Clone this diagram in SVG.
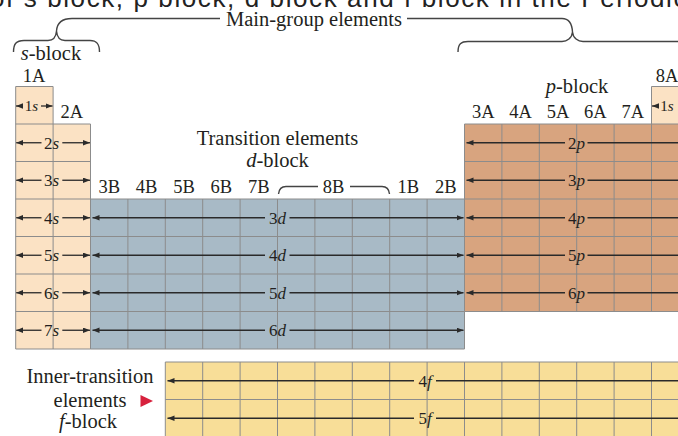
<svg xmlns="http://www.w3.org/2000/svg" width="678" height="436" viewBox="0 0 678 436">
<defs>
<style>
.t{font-family:"Liberation Serif","Times New Roman",serif;fill:#231f20}
.big{font-size:20.5px}
.grp{font-size:18.5px;text-anchor:middle}
.orb{font-size:17px;text-anchor:middle}
.i{font-style:italic}
.grid{stroke:#8c8c8c;stroke-width:1;fill:none}
.arr{stroke:#2a2a2a;stroke-width:1.3;fill:none;marker-end:url(#ah)}
.brace{stroke:#444;stroke-width:1.4;fill:none}
</style>
<marker id="ah" markerUnits="userSpaceOnUse" markerWidth="8" markerHeight="6" refX="7" refY="2.75" orient="auto">
<path d="M0,0 L7,2.75 L0,5.5 z" fill="#2a2a2a"/>
</marker>
</defs>
<rect width="678" height="436" fill="#ffffff"/>

<text x="-10" y="6.5" font-family="Liberation Sans, Arial, sans-serif" font-size="26" letter-spacing="1.6" fill="#222">of s block, p block, d block and f block in the Periodic Table</text>

<g id="braces">
<path class="brace" d="M13.5,52 C13.5,44 16,40.5 24,40.5 L48,40.5 C53,40.5 56,37 56.5,31 C57,37 60,40.5 65,40.5 L90,40.5 C97,40.5 99.5,44 99.5,52"/>
<path class="brace" d="M56.5,31 C57,23 62,18.5 72,18.5 L220,18.5"/>
<path class="brace" d="M407,18.5 L562,18.5 C568,18.5 572,23 572.5,32"/>
<path class="brace" d="M458,52 C458,44 461,41.5 468,41.5 L562,41.5 C567,41.5 572,38 572.5,32 C573,38 578,41.5 583,41.5 L690,41.5"/>
<path class="brace" d="M278.5,194 C279,189 281,186.5 286,186.5 L318,186.5 M350,186.5 L382,186.5 C387,186.5 389,189 389.5,194"/>
</g>

<g id="labels">
<text class="t big" x="226" y="26">Main-group elements</text>
<text class="t big" x="51" y="60" text-anchor="middle"><tspan class="i">s</tspan>-block</text>
<text class="t big" x="577" y="92.5" text-anchor="middle"><tspan class="i">p</tspan>-block</text>
<text class="t big" x="277.5" y="145" text-anchor="middle">Transition elements</text>
<text class="t big" x="277.5" y="166.5" text-anchor="middle"><tspan class="i">d</tspan>-block</text>
<text class="t grp" x="34" y="81.5">1A</text>
<text class="t grp" x="71.8" y="117.5">2A</text>
<text class="t grp" x="483.2" y="117.5">3A</text>
<text class="t grp" x="520.6" y="117.5">4A</text>
<text class="t grp" x="558" y="117.5">5A</text>
<text class="t grp" x="595.4" y="117.5">6A</text>
<text class="t grp" x="632.8" y="117.5">7A</text>
<text class="t grp" x="667" y="81.5">8A</text>
<text class="t grp" x="109.2" y="193">3B</text>
<text class="t grp" x="146.6" y="193">4B</text>
<text class="t grp" x="184" y="193">5B</text>
<text class="t grp" x="221.4" y="193">6B</text>
<text class="t grp" x="258.8" y="193">7B</text>
<text class="t grp" x="333.6" y="193">8B</text>
<text class="t grp" x="408.4" y="193">1B</text>
<text class="t grp" x="445.8" y="193">2B</text>
</g>

<g id="s-block">
<rect x="15.7" y="86.5" width="37.4" height="37.5" fill="#fbe2c4"/>
<rect x="15.7" y="124" width="74.8" height="225" fill="#fbe2c4"/>
<path class="grid" d="M15.7,86.5 H53.1 V124 M15.7,86.5 V349 H90.5 V124 H15.7 M53.1,124 V349 M15.7,161.5 H90.5 M15.7,199 H90.5 M15.7,236.5 H90.5 M15.7,274 H90.5 M15.7,311.5 H90.5"/>
</g>

<g id="s-block-8A">
<rect x="651.5" y="86.5" width="37.4" height="37.5" fill="#fbe2c4"/>
<path class="grid" d="M651.5,124 V86.5 H690"/>
</g>

<g id="d-block">
<rect x="90.5" y="199" width="374" height="150" fill="#a8bac6"/>
<path class="grid" d="M90.5,199 H464.5 V349 H90.5 Z M127.9,199 V349 M165.3,199 V349 M202.7,199 V349 M240.1,199 V349 M277.5,199 V349 M314.9,199 V349 M352.3,199 V349 M389.7,199 V349 M427.1,199 V349 M90.5,236.5 H464.5 M90.5,274 H464.5 M90.5,311.5 H464.5"/>
</g>

<g id="p-block">
<rect x="464.5" y="124" width="224.4" height="187.5" fill="#d8a47f"/>
<path class="grid" d="M690,124 H464.5 V311.5 H690 M501.9,124 V311.5 M539.3,124 V311.5 M576.7,124 V311.5 M614.1,124 V311.5 M651.5,124 V311.5 M464.5,161.5 H690 M464.5,199 H690 M464.5,236.5 H690 M464.5,274 H690"/>
</g>

<g id="f-block">
<rect x="165.3" y="362" width="523.6" height="76" fill="#f8de98"/>
<path class="grid" d="M690,362 H165.3 V438 M202.7,362 V438 M240.1,362 V438 M277.5,362 V438 M314.9,362 V438 M352.3,362 V438 M389.7,362 V438 M427.1,362 V438 M464.5,362 V438 M501.9,362 V438 M539.3,362 V438 M576.7,362 V438 M614.1,362 V438 M651.5,362 V438 M165.3,399.5 H690"/>
</g>

<g id="f-label">
<text class="t big" x="90" y="383" text-anchor="middle">Inner-transition</text>
<text class="t big" x="90" y="406.5" text-anchor="middle">elements</text>
<text class="t big" x="88" y="427.5" text-anchor="middle"><tspan class="i">f</tspan>-block</text>
<path d="M140.5,395 L153,401 L140.5,407 Z" fill="#d7213d"/>
</g>

<g id="connectors">
<path class="arr" d="M22,106 H16"/>
<path class="arr" d="M41,106 H52.5"/>
<path class="arr" d="M657,106 H652"/>
<path class="arr" d="M678,106 H688"/>
<path class="arr" d="M41.5,142.75 H16.2"/><path class="arr" d="M62.3,142.75 H90"/>
<path class="arr" d="M41.5,180.25 H16.2"/><path class="arr" d="M62.3,180.25 H90"/>
<path class="arr" d="M41.5,217.75 H16.2"/><path class="arr" d="M62.3,217.75 H90"/>
<path class="arr" d="M41.5,255.25 H16.2"/><path class="arr" d="M62.3,255.25 H90"/>
<path class="arr" d="M41.5,292.75 H16.2"/><path class="arr" d="M62.3,292.75 H90"/>
<path class="arr" d="M41.5,330.25 H16.2"/><path class="arr" d="M62.3,330.25 H90"/>
<path class="arr" d="M265,217.75 H92.5"/><path class="arr" d="M289.5,217.75 H463.5"/>
<path class="arr" d="M265,255.25 H92.5"/><path class="arr" d="M289.5,255.25 H463.5"/>
<path class="arr" d="M265,292.75 H92.5"/><path class="arr" d="M289.5,292.75 H463.5"/>
<path class="arr" d="M265,330.25 H92.5"/><path class="arr" d="M289.5,330.25 H463.5"/>
<path class="arr" d="M565,142.75 H466.5"/><path class="arr" d="M587.5,142.75 H688"/>
<path class="arr" d="M565,180.25 H466.5"/><path class="arr" d="M587.5,180.25 H688"/>
<path class="arr" d="M565,217.75 H466.5"/><path class="arr" d="M587.5,217.75 H688"/>
<path class="arr" d="M565,255.25 H466.5"/><path class="arr" d="M587.5,255.25 H688"/>
<path class="arr" d="M565,292.75 H466.5"/><path class="arr" d="M587.5,292.75 H688"/>
<path class="arr" d="M414,380.75 H167.5"/><path class="arr" d="M436,380.75 H688"/>
<path class="arr" d="M414,418.25 H167.5"/><path class="arr" d="M436,418.25 H688"/>
</g>

<g id="orbital-labels">
<text class="t" x="31.5" y="111" font-size="15" text-anchor="middle">1<tspan class="i">s</tspan></text>
<text class="t" x="667" y="111" font-size="15" text-anchor="middle">1<tspan class="i">s</tspan></text>
<text class="t orb" x="51.5" y="148.5">2<tspan class="i">s</tspan></text>
<text class="t orb" x="51.5" y="186">3<tspan class="i">s</tspan></text>
<text class="t orb" x="51.5" y="223.5">4<tspan class="i">s</tspan></text>
<text class="t orb" x="51.5" y="261">5<tspan class="i">s</tspan></text>
<text class="t orb" x="51.5" y="298.5">6<tspan class="i">s</tspan></text>
<text class="t orb" x="51.5" y="336">7<tspan class="i">s</tspan></text>
<text class="t orb" x="277.5" y="223.5">3<tspan class="i">d</tspan></text>
<text class="t orb" x="277.5" y="261">4<tspan class="i">d</tspan></text>
<text class="t orb" x="277.5" y="298.5">5<tspan class="i">d</tspan></text>
<text class="t orb" x="277.5" y="336">6<tspan class="i">d</tspan></text>
<text class="t orb" x="576.5" y="148.5">2<tspan class="i">p</tspan></text>
<text class="t orb" x="576.5" y="186">3<tspan class="i">p</tspan></text>
<text class="t orb" x="576.5" y="223.5">4<tspan class="i">p</tspan></text>
<text class="t orb" x="576.5" y="261">5<tspan class="i">p</tspan></text>
<text class="t orb" x="576.5" y="298.5">6<tspan class="i">p</tspan></text>
<text class="t orb" x="425" y="386.5">4<tspan class="i">f</tspan></text>
<text class="t orb" x="425" y="424">5<tspan class="i">f</tspan></text>
</g>
</svg>
